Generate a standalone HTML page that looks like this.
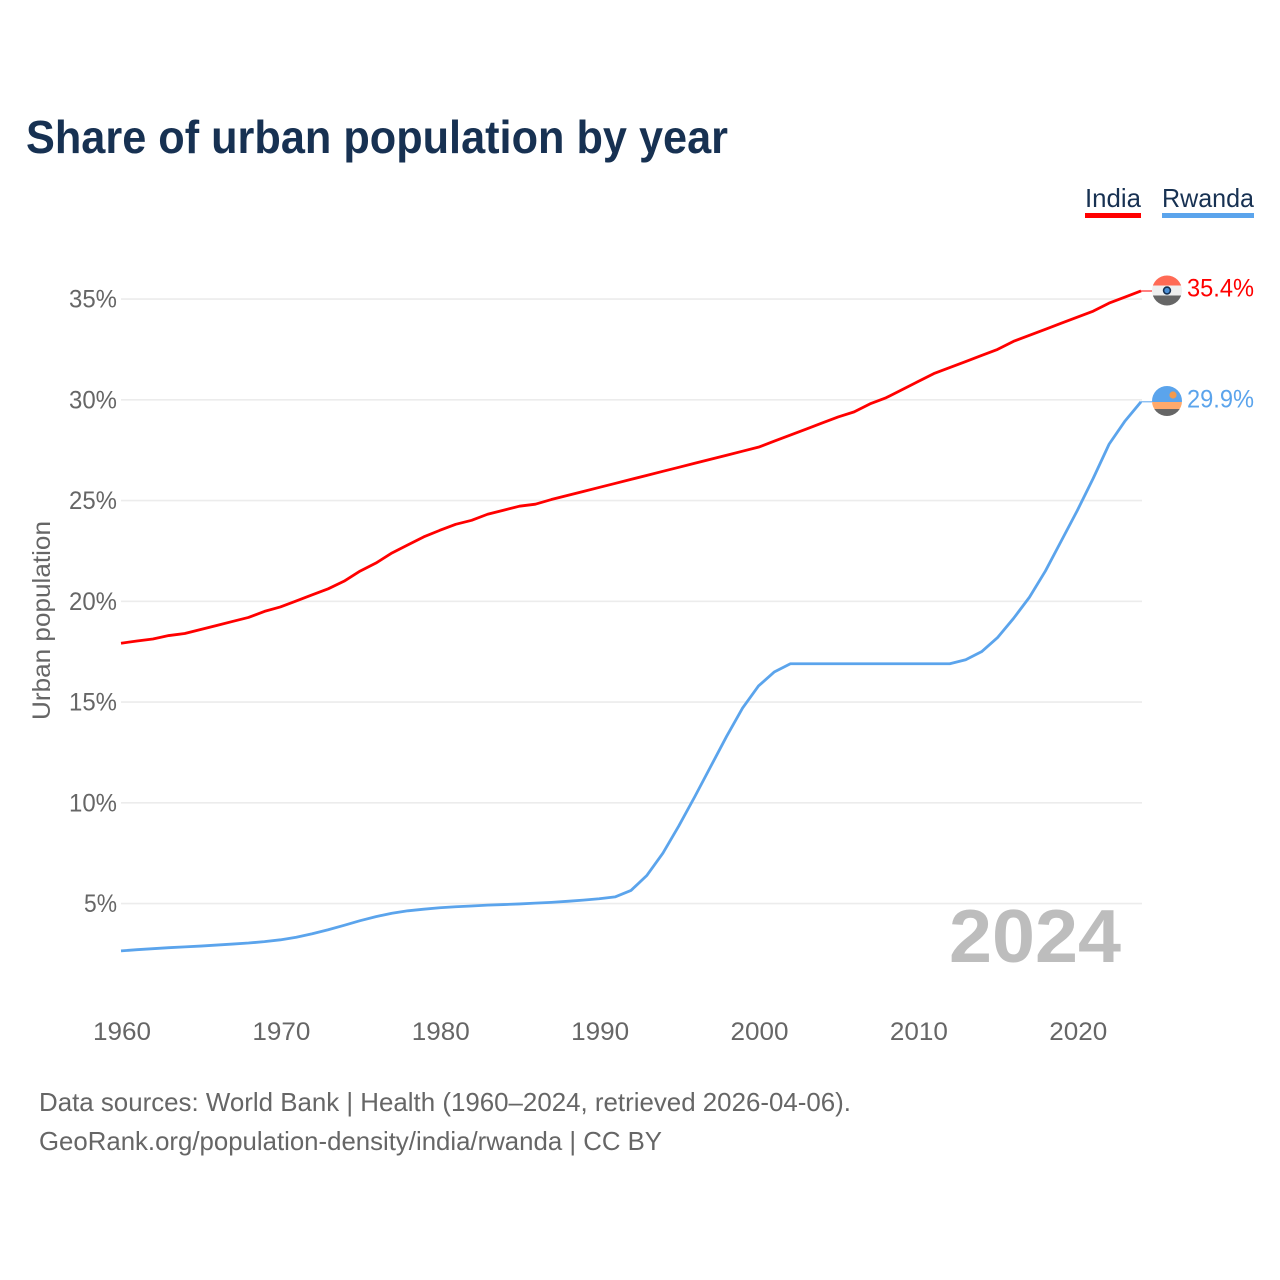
<!DOCTYPE html>
<html lang="en">
<head>
<meta charset="utf-8">
<title>Share of urban population by year</title>
<style>
html,body{margin:0;padding:0;background:#fff;width:1280px;height:1280px;overflow:hidden}
svg{display:block}
text{font-family:"Liberation Sans",sans-serif}
</style>
</head>
<body>
<svg id="chart" width="1280" height="1280" viewBox="0 0 1280 1280" xmlns="http://www.w3.org/2000/svg">
  <rect x="0" y="0" width="1280" height="1280" fill="#ffffff"/>
  <text x="26" y="153" font-size="46" font-weight="700" fill="#173152" textLength="702" lengthAdjust="spacingAndGlyphs">Share of urban population by year</text>

  <g>
    <g>
      <text x="1085" y="207" font-size="26" fill="#173152" textLength="56" lengthAdjust="spacingAndGlyphs">India</text>
      <rect x="1085" y="213" width="56" height="5" fill="#ff0000"/>
    </g>
    <g>
      <text x="1162" y="207" font-size="26" fill="#173152" textLength="92" lengthAdjust="spacingAndGlyphs">Rwanda</text>
      <rect x="1162" y="213" width="92" height="5" fill="#5ba4ec"/>
    </g>
  </g>

  <g id="grid"></g>
  <g id="yticks"></g>
  <g id="xticks"></g>
  <text transform="translate(50,720) rotate(-90)" font-size="25" fill="#666666" textLength="199" lengthAdjust="spacingAndGlyphs">Urban population</text>
  <text x="949" y="962" font-size="75" font-weight="700" fill="#bdbdbd" textLength="172" lengthAdjust="spacingAndGlyphs">2024</text>
  <g id="series"></g>

  <defs>
    <clipPath id="clip-india"><circle cx="1167" cy="290.5" r="15"/></clipPath>
    <clipPath id="clip-rwanda"><circle cx="1167" cy="401" r="15"/></clipPath>
  </defs>
  <g clip-path="url(#clip-india)">
    <rect x="1152" y="275" width="30" height="10.5" fill="#ff6a55"/>
    <rect x="1152" y="285.5" width="30" height="10" fill="#efefef"/>
    <rect x="1152" y="295.5" width="30" height="11" fill="#666666"/>
    <circle cx="1167" cy="290.5" r="3.4" fill="#4b8fd6" stroke="#173152" stroke-width="1.6"/>
  </g>
  <g clip-path="url(#clip-rwanda)">
    <rect x="1152" y="386" width="30" height="16" fill="#5ba4ec"/>
    <rect x="1152" y="402" width="30" height="7" fill="#ffa96b"/>
    <rect x="1152" y="409" width="30" height="8" fill="#666666"/>
    <circle cx="1173" cy="395" r="3.6" fill="#f39a4e"/>
  </g>
  <text id="label-india" x="1187" y="296.5" font-size="25" fill="#ff0000" textLength="67" lengthAdjust="spacingAndGlyphs"></text>
  <text id="label-rwanda" x="1187" y="407.5" font-size="25" fill="#5ba4ec" textLength="67" lengthAdjust="spacingAndGlyphs"></text>

  <text x="39" y="1111" font-size="26" fill="#666666" textLength="812" lengthAdjust="spacingAndGlyphs">Data sources: World Bank | Health (1960–2024, retrieved 2026-04-06).</text>
  <text x="39" y="1150" font-size="26" fill="#666666" textLength="623" lengthAdjust="spacingAndGlyphs">GeoRank.org/population-density/india/rwanda | CC BY</text>
</svg>
<script>
const years = [1960,1961,1962,1963,1964,1965,1966,1967,1968,1969,1970,1971,1972,1973,1974,1975,1976,1977,1978,1979,1980,1981,1982,1983,1984,1985,1986,1987,1988,1989,1990,1991,1992,1993,1994,1995,1996,1997,1998,1999,2000,2001,2002,2003,2004,2005,2006,2007,2008,2009,2010,2011,2012,2013,2014,2015,2016,2017,2018,2019,2020,2021,2022,2023,2024];
const indiaValues = [17.92,18.03,18.13,18.3,18.4,18.6,18.8,19.0,19.2,19.5,19.72,20.02,20.32,20.62,21.0,21.5,21.9,22.4,22.8,23.2,23.52,23.82,24.02,24.32,24.52,24.72,24.82,25.05,25.25,25.45,25.65,25.85,26.05,26.25,26.45,26.65,26.85,27.05,27.25,27.45,27.65,27.95,28.25,28.55,28.85,29.15,29.4,29.8,30.1,30.5,30.9,31.3,31.6,31.9,32.2,32.5,32.9,33.2,33.5,33.8,34.1,34.4,34.8,35.1,35.4];
const rwandaValues = [2.65,2.71,2.76,2.81,2.85,2.89,2.94,2.99,3.04,3.11,3.2,3.33,3.5,3.7,3.92,4.15,4.35,4.52,4.64,4.72,4.79,4.84,4.88,4.92,4.95,4.98,5.02,5.06,5.11,5.17,5.24,5.33,5.65,6.4,7.5,8.85,10.3,11.8,13.3,14.7,15.8,16.5,16.9,16.9,16.9,16.9,16.9,16.9,16.9,16.9,16.9,16.9,16.9,17.1,17.5,18.2,19.15,20.2,21.5,23.0,24.5,26.1,27.8,28.95,29.9];
const yTickValues = [5,10,15,20,25,30,35];
const xTickValues = [1960,1970,1980,1990,2000,2010,2020];
const indiaEndLabel = "35.4%";
const rwandaEndLabel = "29.9%";

const NS = "http://www.w3.org/2000/svg";
const xScale = function (year) { return 121 + (year - 1960) * (1141 - 121) / 64; };
const yScale = function (value) { return 1004.3 - value * 20.15; };

function make(tag, parent, attrs) {
  const el = document.createElementNS(NS, tag);
  for (const k in attrs) el.setAttribute(k, attrs[k]);
  parent.appendChild(el);
  return el;
}

const grid = document.getElementById("grid");
const yticks = document.getElementById("yticks");
const xticks = document.getElementById("xticks");
const series = document.getElementById("series");

yTickValues.forEach(function (v) {
  const line = make("line", grid, {x1: 121, x2: 1142, y1: yScale(v), y2: yScale(v), stroke: "#ececec", "stroke-width": 1.6});
  
  
  const label = v + "%";
  const t = make("text", yticks, {x: 117, y: yScale(v) + 8.5, "text-anchor": "end", "font-size": 25, fill: "#666666", textLength: label.length === 3 ? 48 : 33, lengthAdjust: "spacingAndGlyphs"});
  t.textContent = label;
  
  
});

xTickValues.forEach(function (year) {
  const t = make("text", xticks, {x: xScale(year) + 1, y: 1040, "text-anchor": "middle", "font-size": 25, fill: "#666666", textLength: 58, lengthAdjust: "spacingAndGlyphs"});
  t.textContent = String(year);
  
  
});

function linePoints(values) {
  return values.map(function (v, i) {
    return xScale(years[i]).toFixed(2) + "," + yScale(v).toFixed(2);
  }).join(" ");
}

const rwandaLine = make("polyline", series, {points: linePoints(rwandaValues), fill: "none", stroke: "#5ba4ec", "stroke-width": 2.8, "stroke-linejoin": "round"});


const indiaLine = make("polyline", series, {points: linePoints(indiaValues), fill: "none", stroke: "#ff0000", "stroke-width": 2.8, "stroke-linejoin": "round"});



const indiaEndY = yScale(indiaValues[indiaValues.length - 1]);
const rwandaEndY = yScale(rwandaValues[rwandaValues.length - 1]);
const indiaLeader = make("line", series, {x1: 1141, x2: 1152, y1: indiaEndY, y2: indiaEndY, stroke: "#ff0000", "stroke-width": 1});


const rwandaLeader = make("line", series, {x1: 1141, x2: 1152, y1: rwandaEndY, y2: rwandaEndY, stroke: "#5ba4ec", "stroke-width": 1});



document.getElementById("label-india").textContent = indiaEndLabel;
document.getElementById("label-rwanda").textContent = rwandaEndLabel;
</script>
</body>
</html>
